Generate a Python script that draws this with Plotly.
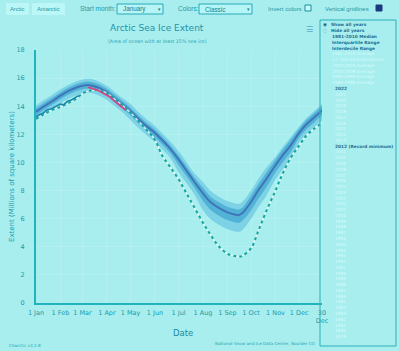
import plotly.graph_objects as go

# ---------------- data ----------------
clim_dates = ["01-01", "01-10", "01-20", "02-01", "02-10", "02-20", "03-01", "03-10", "03-20",
              "04-01", "04-10", "04-20", "05-01", "05-10", "05-20", "06-01", "06-10", "06-20",
              "07-01", "07-10", "07-20", "08-01", "08-10", "08-20", "09-01", "09-10", "09-15",
              "09-20", "10-01", "10-10", "10-20", "11-01", "11-10", "11-20", "12-01", "12-10",
              "12-20", "12-30"]
median = [13.6, 13.95, 14.3, 14.75, 15.05, 15.3, 15.45, 15.5, 15.35, 15.0, 14.6, 14.15, 13.65, 13.15,
          12.65, 12.1, 11.6, 11.0, 10.2, 9.5, 8.7, 7.8, 7.2, 6.8, 6.45, 6.3, 6.25, 6.4, 7.2, 8.0, 8.8,
          9.8, 10.5, 11.2, 12.1, 12.7, 13.2, 13.7]
iqr_lo = [13.35, 13.7, 14.05, 14.5, 14.8, 15.05, 15.2, 15.25, 15.1, 14.75, 14.35, 13.9, 13.35, 12.85,
          12.35, 11.8, 11.3, 10.7, 9.8, 9.1, 8.3, 7.25, 6.65, 6.25, 5.9, 5.75, 5.7, 5.85, 6.6, 7.4, 8.2,
          9.3, 10.0, 10.7, 11.75, 12.35, 12.85, 13.35]
iqr_hi = [13.85, 14.2, 14.55, 15.0, 15.3, 15.55, 15.7, 15.75, 15.6, 15.25, 14.85, 14.4, 13.9, 13.4,
          12.9, 12.35, 11.85, 11.25, 10.5, 9.8, 9.0, 8.2, 7.6, 7.2, 6.85, 6.7, 6.65, 6.8, 7.65, 8.45, 9.25,
          10.2, 10.9, 11.6, 12.4, 13.0, 13.5, 14.0]
idr_lo = [13.05, 13.4, 13.75, 14.2, 14.5, 14.75, 14.9, 14.95, 14.8, 14.45, 14.05, 13.6, 13.0, 12.5,
          12.0, 11.45, 10.95, 10.35, 9.3, 8.6, 7.8, 6.6, 6.0, 5.6, 5.25, 5.1, 5.05, 5.2, 6.0, 6.8, 7.6,
          8.8, 9.5, 10.2, 11.4, 12.0, 12.5, 13.0]
idr_hi = [14.05, 14.4, 14.75, 15.2, 15.5, 15.75, 15.9, 15.95, 15.8, 15.45, 15.05, 14.6, 14.15, 13.65,
          13.15, 12.6, 12.1, 11.5, 10.8, 10.1, 9.3, 8.6, 8.0, 7.6, 7.25, 7.1, 7.05, 7.2, 8.0, 8.8, 9.6,
          10.4, 11.1, 11.8, 12.55, 13.15, 13.65, 14.15]

y2012_dates = ["01-01", "01-10", "01-20", "02-01", "02-10", "02-20", "03-01", "03-10", "03-20",
               "04-01", "04-10", "04-20", "05-01", "05-10", "05-20", "06-01", "06-10", "06-20",
               "07-01", "07-10", "07-20", "08-01", "08-10", "08-20", "09-01", "09-10", "09-16",
               "09-20", "10-01", "10-10", "10-20", "11-01", "11-10", "11-20", "12-01", "12-10",
               "12-20", "12-30"]
y2012 = [13.1, 13.4, 13.7, 13.95, 14.2, 14.5, 14.9, 15.1, 15.15, 14.95, 14.55, 14.1, 13.55, 13.0,
         12.4, 11.6, 10.5, 9.7, 8.8, 7.9, 6.9, 5.7, 4.9, 4.1, 3.5, 3.35, 3.3, 3.35, 3.9, 5.1, 6.5,
         8.0, 9.2, 10.3, 11.2, 11.9, 12.4, 12.8]

cur_dates = ["01-01", "01-05", "01-10", "01-15", "01-20", "01-25", "02-01", "02-05", "02-10",
             "02-15", "02-20", "02-24"]
cur_vals = [13.25, 13.4, 13.5, 13.75, 13.8, 13.95, 14.15, 14.1, 14.35, 14.45, 14.6, 14.75]

red_dates = ["03-08", "03-12", "03-16", "03-20", "03-25", "04-01", "04-05", "04-10", "04-15",
             "04-20", "04-25"]
red_vals = [15.35, 15.3, 15.2, 15.15, 15.0, 14.8, 14.65, 14.4, 14.2, 13.95, 13.7]

tick_dates = ["01-01", "02-01", "03-01", "04-01", "05-01", "06-01", "07-01", "08-01", "09-01",
              "10-01", "11-01", "12-01", "12-30"]
tick_text = ["1 Jan", "1 Feb", "1 Mar", "1 Apr", "1 May", "1 Jun", "1 Jul", "1 Aug", "1 Sep",
             "1 Oct", "1 Nov", "1 Dec", "30<br>Dec"]

legend_top = ["Show all years", "Hide all years", "1981-2010 Median", "Interquartile Range",
              "Interdecile Range"]
legend_avg = ["1981-2010 Average", "±2 Standard Deviations", "2010-2019 Average",
              "2000-2009 Average", "1990-1999 Average", "1980-1989 Average"]
legend_years = ["2022", "2021", "2020", "2019", "2018", "2017", "2016", "2015", "2014", "2013",
                "2012 (Record minimum)"] + [str(y) for y in range(2011, 1978, -1)]
bold_years = ["2022", "2012 (Record minimum)"]


def d(s):
    return "2023-" + s


BG = "#a8eeee"
TEAL = "#1b9aa8"
CTRL = "Liberation Sans"

# plot area in pixels
L, R, T, B = 36, 322, 50, 303


def px(x):
    return (x - L) / (R - L)


def py(y):
    return (B - y) / (B - T)


fig = go.Figure()

fig.add_trace(go.Scatter(x=[d(s) for s in clim_dates], y=idr_lo, mode="lines",
                         line=dict(width=0, shape="spline"), showlegend=False, hoverinfo="skip"))
fig.add_trace(go.Scatter(x=[d(s) for s in clim_dates], y=idr_hi, mode="lines", fill="tonexty",
                         fillcolor="rgb(125,210,230)", line=dict(width=0, shape="spline"),
                         showlegend=False, hoverinfo="skip"))
fig.add_trace(go.Scatter(x=[d(s) for s in clim_dates], y=iqr_lo, mode="lines",
                         line=dict(width=0, shape="spline"), showlegend=False, hoverinfo="skip"))
fig.add_trace(go.Scatter(x=[d(s) for s in clim_dates], y=iqr_hi, mode="lines", fill="tonexty",
                         fillcolor="rgb(82,178,214)", line=dict(width=0, shape="spline"),
                         showlegend=False, hoverinfo="skip"))
fig.add_trace(go.Scatter(x=[d(s) for s in clim_dates], y=median, mode="lines",
                         line=dict(color="rgb(62,118,184)", width=2, shape="spline"),
                         showlegend=False))
fig.add_trace(go.Scatter(x=[d(s) for s in y2012_dates], y=y2012, mode="lines",
                         line=dict(color="rgba(235,255,255,0.75)", width=1.6, shape="spline"),
                         showlegend=False, hoverinfo="skip"))
fig.add_trace(go.Scatter(x=[d(s) for s in y2012_dates], y=y2012, mode="lines",
                         line=dict(color="#17a39e", width=2, dash="3px,3px", shape="spline"),
                         showlegend=False))
fig.add_trace(go.Scatter(x=[d(s) for s in cur_dates], y=cur_vals, mode="lines",
                         line=dict(color="#1a88ac", width=1.6), showlegend=False))
fig.add_trace(go.Scatter(x=[d(s) for s in red_dates], y=red_vals, mode="lines",
                         line=dict(color="#d2457e", width=1.8), showlegend=False))

ann = []
shapes = []


def text(t, x, y, size, color=TEAL, xanchor="center", family="DejaVu Sans", angle=0):
    ann.append(dict(text=t, x=px(x), y=py(y), xref="paper", yref="paper", showarrow=False,
                    xanchor=xanchor, yanchor="middle", textangle=angle,
                    font=dict(size=size, color=color, family=family)))


def rect(x0, y0, x1, y1, line="#2aa8b8", fill="rgba(0,0,0,0)", w=1):
    shapes.append(dict(type="rect", xref="paper", yref="paper", x0=px(x0), x1=px(x1),
                       y0=py(y0), y1=py(y1), line=dict(color=line, width=w), fillcolor=fill))


# top controls
rect(6, 3, 29, 15, line="rgba(0,0,0,0)", fill="#bcf7f7")
rect(32, 3, 65, 15, line="rgba(0,0,0,0)", fill="#bcf7f7")
text("Arctic", 17.5, 9, 5.8, family=CTRL)
text("Antarctic", 48.5, 9, 5.8, family=CTRL)
text("Start month:", 78, 8.5, 6.5, xanchor="left", family=CTRL)
rect(117, 4, 163, 14, line="#2aa8b8", fill="#b6f5f5")
text("January", 121, 9, 6.3, color="#157f90", xanchor="left", family=CTRL)
text("▾", 159, 9, 5, color="#157f90")
text("Colors:", 176, 8.5, 6.5, xanchor="left", family=CTRL)
rect(199, 4, 252, 14, line="#2aa8b8", fill="#b6f5f5")
text("Classic", 203, 9, 6.3, color="#157f90", xanchor="left", family=CTRL)
text("▾", 248, 9, 5, color="#157f90")
text("Invert colors", 266, 8.5, 6.2, xanchor="left", family=CTRL)
rect(305, 5, 311, 11, line="#1b8fa0", fill="#c8fafa")
text("Vertical gridlines", 323, 8.5, 6.0, xanchor="left", family=CTRL)
rect(376, 5, 382, 11, line="#1a3a80", fill="#1a3a80")

# titles
text("Arctic Sea Ice Extent", 157, 28, 9, color="#1f93aa")
text("(Area of ocean with at least 15% sea ice)", 157, 42, 4.8, color="#2aa4b4")
text("☰", 309, 29, 8, color="#55aac4")
text("Extent (Millions of square kilometers)", 12, 177, 7, angle=-90)
text("Date", 183, 333, 8.5, color="#1a8aa0")
text("National Snow and Ice Data Center, Boulder CO", 318, 343, 4.2, color="#2aa4b4",
     xanchor="right")
text("Charctic v3.2.8", 7, 345, 4.2, color="#2aa4b4", xanchor="left")

# legend box
rect(320, 20, 396, 346, line="#2ab0b8", fill="rgba(0,0,0,0)")
step = 5.77
row = 0
icons = ["◉", "◌"]
for i, t in enumerate(legend_top):
    y = 25 + step * row
    if i < 2:
        text(icons[i], 325, y, 4.5, color="#1a5a80")
        text("<b>" + t + "</b>", 329, y, 4.3, color="#1a6f96", xanchor="left")
    else:
        text("<b>" + t + "</b>", 330, y, 4.3, color="#1a6f96", xanchor="left")
    row += 1
for t in legend_avg:
    y = 25 + step * row
    text(t, 330, y, 4.3, color="#d4fbfd", xanchor="left")
    row += 1
for t in legend_years:
    y = 25 + step * row
    if t in bold_years:
        text("<b>" + t + "</b>", 333, y, 4.3, color="#1a6f96", xanchor="left")
    else:
        text(t, 333, y, 4.3, color="#d4fbfd", xanchor="left")
    row += 1

fig.update_layout(
    width=399, height=351, autosize=False,
    margin=dict(l=L, r=399 - R, t=T, b=351 - B, pad=0),
    paper_bgcolor=BG, plot_bgcolor=BG,
    showlegend=False,
    annotations=ann, shapes=shapes,
    xaxis=dict(type="date", range=[d("01-01"), d("12-30")],
               tickvals=[d(s) for s in tick_dates], ticktext=tick_text,
               tickfont=dict(size=6.5, color=TEAL, family="DejaVu Sans"),
               showline=True, linecolor="#22b4bc", linewidth=2,
               showgrid=True, gridcolor="rgba(255,255,255,0.14)", gridwidth=1,
               zeroline=False, ticks="", ticklabelstandoff=2, tickangle=0),
    yaxis=dict(range=[0, 18], dtick=2,
               tickfont=dict(size=6.5, color=TEAL, family="DejaVu Sans"),
               showline=True, linecolor="#22b4bc", linewidth=2,
               showgrid=True, gridcolor="rgba(255,255,255,0.14)", gridwidth=1,
               zeroline=False, ticks="", ticklabelstandoff=8),
)

fig.write_html("out.html")
